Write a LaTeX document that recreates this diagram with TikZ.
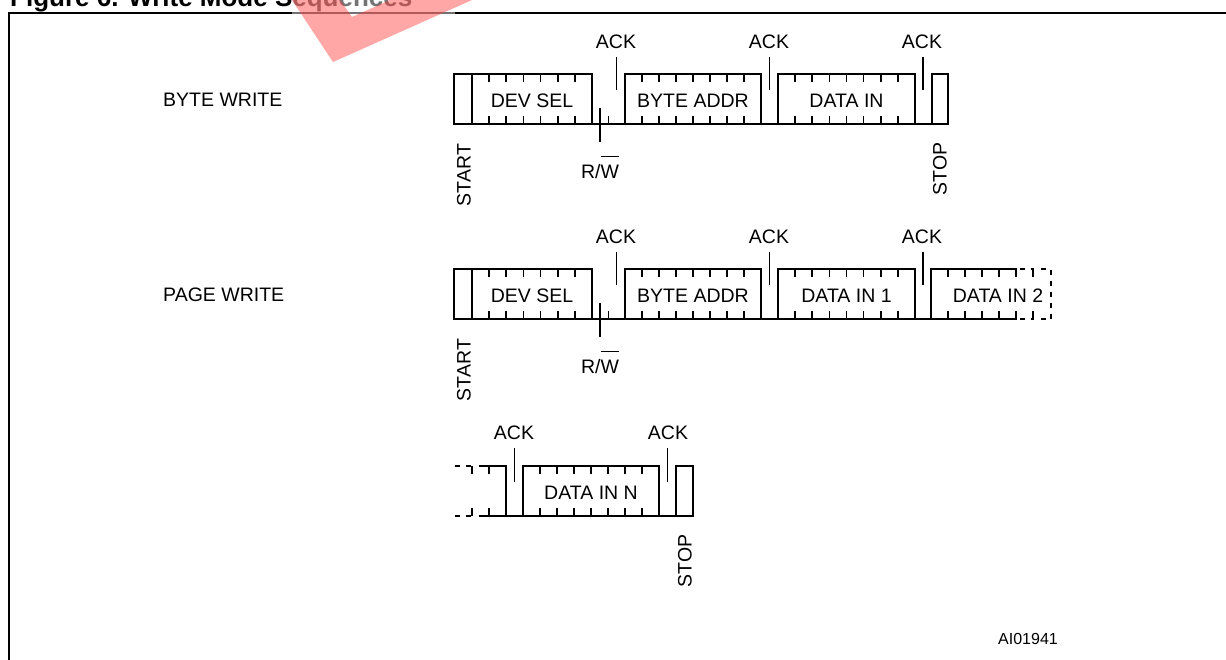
\documentclass[tikz,border=0pt]{standalone}
\usepackage{fontspec}
\setmainfont{Liberation Sans}
\newlength\owd
\newcommand\ovl[1]{\settowidth\owd{#1}\rlap{\rule[21pt]{\owd}{1.1pt}}#1}
\tikzset{
  sig/.style={line width=2pt, line join=miter},
  bittick/.style={line width=1.6pt},
  markline/.style={line width=1.1pt},
  dsig/.style={line width=2pt, dash pattern=on 5pt off 6pt},
  lbl/.style={font=\fontsize{19.5}{20}\selectfont, inner sep=0pt},
  rowlbl/.style={lbl, anchor=west},
}
\newcommand\databox[4]{%
  \draw[sig] (#1,#4+50) -- (#1,#4) -- (#2,#4) -- (#2,#4+50);
  \pgfmathtruncatemacro\nb{#3-1}
  \foreach \k in {1,...,\nb}{
    \pgfmathsetmacro\xx{#1+(#2-#1)*\k/#3}
    \draw[bittick] (\xx,#4) -- ++(0,8) (\xx,#4+50) -- ++(0,-8);
  }%
}
\begin{document}
\begin{tikzpicture}[x=1pt,y=-1pt]
\useasboundingbox (0,0) rectangle (1226,660);
\clip (0,0) rectangle (1226,660);
% title and frame
\node[font=\fontsize{26}{28}\selectfont\bfseries, anchor=base west, inner sep=0pt] (title) at (10,6.5) {Figure 6. Write Mode Sequences};
\draw[line width=2pt] (9,13) rectangle (1250,700);
% watermark
\fill[white, opacity=0.45] (292,0) rectangle (455,16);
\fill[red!70!pink, opacity=0.45] (292,0) -- (333,62) -- (472,0) -- (390,0) -- (352,17) -- (340,0) -- cycle;

% ================= ROW 1 : BYTE WRITE =================
\node[rowlbl] (bw) at (163,100) {BYTE WRITE};
\draw[sig] (454,124) -- (454,74) -- (472,74) -- (472,124);
\databox{472}{592}{7}{74}
\draw[bittick] (608.5,124) -- ++(0,-8);
\databox{625}{761}{8}{74}
\databox{778}{915}{8}{74}
\draw[sig] (932,124) -- (932,74) -- (948,74) -- (948,124);
\draw[sig] (453,124) -- (949,124);
\draw[markline] (616.5,57) -- (616.5,90);
\draw[markline] (769.5,57) -- (769.5,90);
\draw[markline] (923,57) -- (923,90);
\draw[markline] (600,108) -- (600,142);
\node[lbl] (ack11) at (616,42) {ACK};
\node[lbl] (ack12) at (769,42) {ACK};
\node[lbl] (ack13) at (922,42) {ACK};
\node[lbl] (dev1) at (532,101) {DEV SEL};
\node[lbl] (addr1) at (693,101) {BYTE ADDR};
\node[lbl] (data1) at (846.5,101) {DATA IN};
\node[lbl, rotate=90] (start1) at (464,175) {START};
\node[lbl, rotate=90] (stop1) at (940,169) {STOP};
\node[lbl] (rw1) at (600,167.5) {R/\ovl{W}};

% ================= ROW 2 : PAGE WRITE =================
\node[rowlbl] (pw) at (163,295) {PAGE WRITE};
\draw[sig] (454,319) -- (454,269) -- (472,269) -- (472,319);
\databox{472}{592}{7}{269}
\draw[bittick] (608.5,319) -- ++(0,-8);
\databox{625}{761}{8}{269}
\databox{778}{915}{8}{269}
\draw[sig] (931,319) -- (931,269) -- (1017,269);
\foreach \xx in {948,965,982,999,1016}{
  \draw[bittick] (\xx,269) -- ++(0,8) (\xx,319) -- ++(0,-8);
}
\draw[sig] (453,319) -- (1017,319);
\draw[dsig] (1020,269) -- (1034,269);
\draw[dsig] (1020,319) -- (1034,319);
\draw[bittick] (1033,269) -- ++(0,8) (1033,319) -- ++(0,-8);
\draw[dsig] (1041,269) -- (1051,269) -- (1051,322);
\draw[dsig] (1041,319) -- (1051,319);
\draw[markline] (616.5,252) -- (616.5,285);
\draw[markline] (769.5,252) -- (769.5,285);
\draw[markline] (923,252) -- (923,285);
\draw[markline] (600,303) -- (600,337);
\node[lbl] (ack21) at (616,237) {ACK};
\node[lbl] (ack22) at (769,237) {ACK};
\node[lbl] (ack23) at (922,237) {ACK};
\node[lbl] (dev2) at (532,296) {DEV SEL};
\node[lbl] (addr2) at (693,296) {BYTE ADDR};
\node[lbl] (data21) at (846.5,296) {DATA IN 1};
\node[lbl] (data22) at (998,296) {DATA IN 2};
\node[lbl, rotate=90] (start2) at (464,370) {START};
\node[lbl] (rw2) at (600,362.5) {R/\ovl{W}};

% ================= ROW 3 : continuation =================
\draw[dsig] (455,466) -- (471,466);
\draw[dsig] (455,516) -- (471,516);
\draw[bittick] (472,466) -- ++(0,8) (472,516) -- ++(0,-8);
\draw[sig] (479,466) -- (506,466) -- (506,516);
\draw[bittick] (489,466) -- ++(0,8) (489,516) -- ++(0,-8);
\databox{523}{659}{8}{466}
\draw[sig] (676,516) -- (676,466) -- (693,466) -- (693,516);
\draw[sig] (479,516) -- (694,516);
\draw[markline] (514.5,448) -- (514.5,482);
\draw[markline] (667.5,448) -- (667.5,482);
\node[lbl] (ack31) at (514,433) {ACK};
\node[lbl] (ack32) at (668,433) {ACK};
\node[lbl] (data3) at (591,493) {DATA IN N};
\node[lbl, rotate=90] (stop3) at (685,561) {STOP};

\node[font=\fontsize{16}{18}\selectfont, anchor=west, inner sep=0pt] (ai) at (998,639) {AI01941};
\end{tikzpicture}
\end{document}
